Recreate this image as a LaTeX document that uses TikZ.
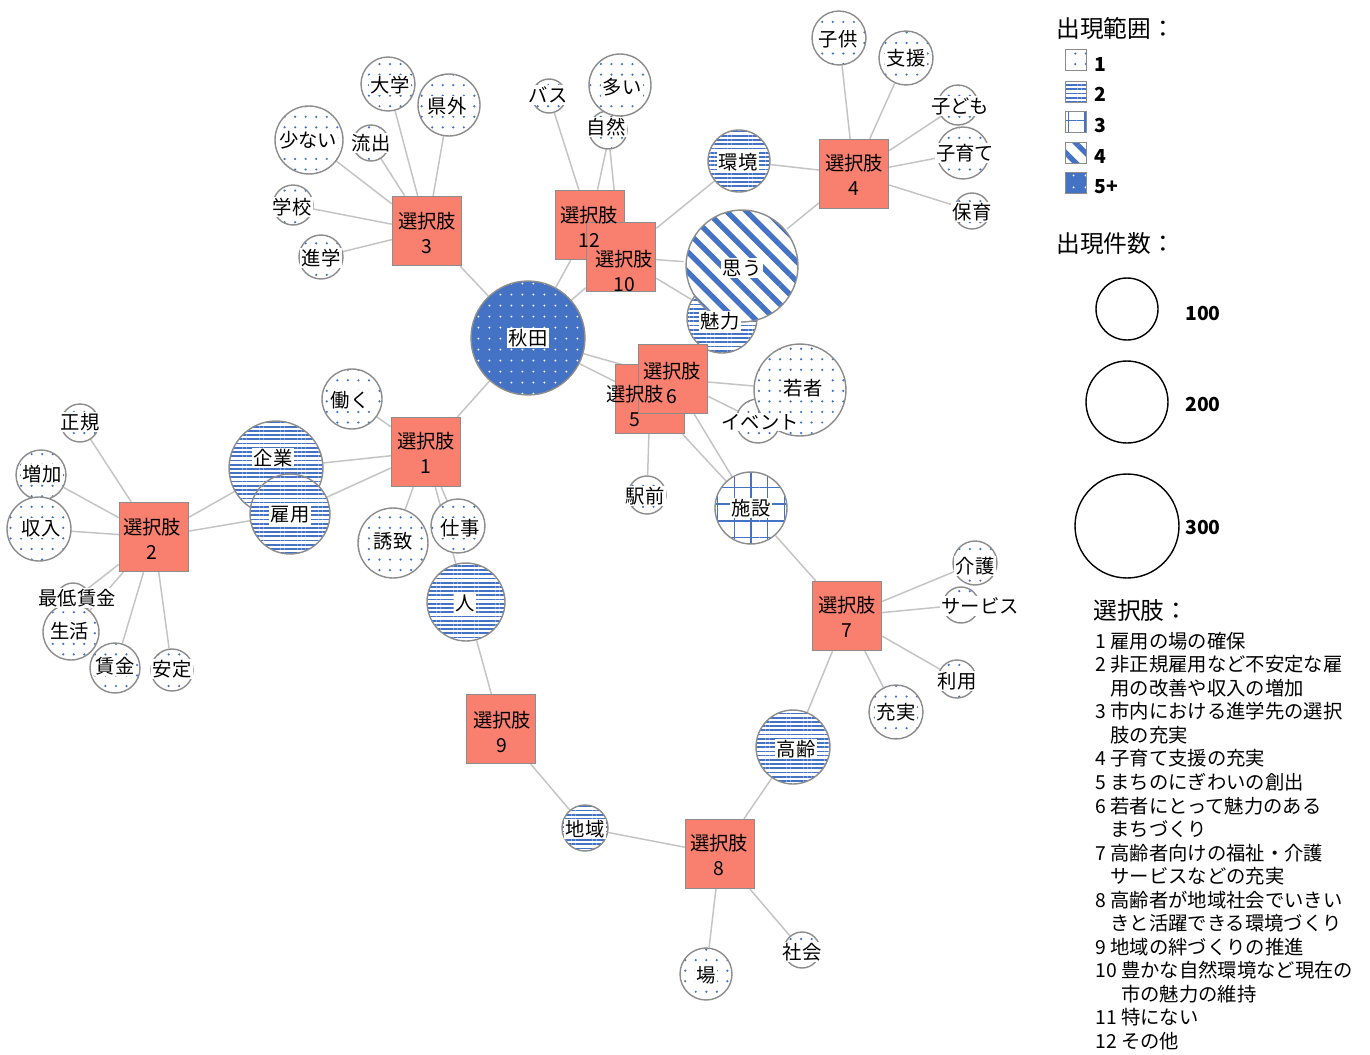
\documentclass[tikz,border=0pt]{standalone}
\usepackage{fontspec}
\setmainfont{Noto Sans CJK JP}
\usetikzlibrary{patterns.meta}
\definecolor{kblue}{HTML}{4472C4}
\definecolor{kbox}{HTML}{F9806F}
\definecolor{kring}{HTML}{8C8C8C}
\definecolor{kedge}{HTML}{C4C4C4}
\pgfdeclarelayer{bg}
\pgfsetlayers{bg,main}

\begin{document}
\begin{tikzpicture}[x=0.02cm,y=-0.02cm,font=\fontsize{11}{13}\selectfont,
  edge/.style={draw=kedge,line width=0.85pt},
  word/.style={circle,draw=kring,line width=0.8pt,inner sep=0pt,minimum size={#1*0.04cm}},
  box/.style={rectangle,draw=kring,line width=0.8pt,fill=kbox,inner sep=0pt,minimum size=1.38cm},
  keybox/.style={rectangle,draw=kring,line width=0.8pt,inner sep=0pt,minimum size=0.42cm},
  lv1/.style={preaction={fill=white},pattern={Dots[distance=6pt,radius=0.7pt]},pattern color=kblue},
  lv2/.style={preaction={fill=white},pattern={Lines[angle=0,distance=2.4pt,line width=1pt]},pattern color=kblue},
  lv3/.style={preaction={fill=white},pattern={Hatch[angle=0,distance=9.5pt,line width=0.8pt]},pattern color=kblue},
  lv4/.style={preaction={fill=white},pattern={Lines[angle=-45,distance=8pt,line width=3pt]},pattern color=kblue},
  lv5/.style={preaction={fill=kblue},pattern={Dots[distance=6.5pt,radius=0.6pt]},pattern color=white},
  wlabel/.style={fill=white,inner sep=0.8pt},
  blabel/.style={align=center,inner sep=0pt,font=\fontsize{11}{14.2}\selectfont},
  keynum/.style={anchor=west,inner sep=0pt,font=\fontsize{11}{13}\selectfont\bfseries},
  keyttl/.style={anchor=west,inner sep=0pt,font=\fontsize{13.5}{16}\selectfont}]
\useasboundingbox (0,0) rectangle (1370,1055);

% word circles
\node[word=57,lv5] (akita) at (528,338) {};
\node[word=35,lv2] (miryoku) at (722,318) {};
\node[word=56,lv4] (omou) at (742,266) {};
\node[word=31,lv2] (kankyo) at (739,161) {};
\node[word=22,lv1] (ibento) at (758,421) {};
\node[word=46,lv1] (wakamono) at (800,390) {};
\node[word=19,lv1] (ekimae) at (647,495) {};
\node[word=36,lv3] (shisetsu) at (751,508) {};
\node[word=22,lv1] (kaigo) at (975,563) {};
\node[word=18,lv1] (service) at (961,605) {};
\node[word=19,lv1] (riyo) at (957,679) {};
\node[word=27,lv1] (jujitsu) at (896,712) {};
\node[word=37,lv2] (korei) at (793,747) {};
\node[word=23,lv2] (chiiki) at (585,828) {};
\node[word=26,lv1] (ba) at (706,974) {};
\node[word=18,lv1] (shakai) at (802,950) {};
\node[word=39,lv2] (hito) at (466,602) {};
\node[word=27,lv1] (shigoto) at (458,526) {};
\node[word=35,lv1] (yuchi) at (393,543) {};
\node[word=30,lv1] (hataraku) at (352,399) {};
\node[word=47,lv2] (kigyo) at (276,468) {};
\node[word=40,lv2] (koyo) at (290,514) {};
\node[word=19,lv1] (seiki) at (80,423) {};
\node[word=25,lv1] (zoka) at (41,475) {};
\node[word=32,lv1] (shunyu) at (39,529) {};
\node[word=17,lv1] (saitei) at (73,600) {};
\node[word=28,lv1] (seikatsu) at (71,632) {};
\node[word=25,lv1] (chingin) at (115,668) {};
\node[word=21,lv1] (antei) at (172,670) {};
\node[word=34,lv1] (sukunai) at (309,140) {};
\node[word=27,lv1] (daigaku) at (388,84) {};
\node[word=31,lv1] (kengai) at (449,105) {};
\node[word=18,lv1] (ryushutsu) at (371,143) {};
\node[word=20,lv1] (gakko) at (293,205) {};
\node[word=22,lv1] (shingaku) at (321,257) {};
\node[word=17,lv1] (basu) at (549,96) {};
\node[word=19,lv1] (shizen) at (608,130) {};
\node[word=31,lv1] (oi) at (620,85) {};
\node[word=27,lv1] (kodomo) at (839,38) {};
\node[word=27,lv1] (shien) at (906,58) {};
\node[word=20,lv1] (kodomo2) at (958,105) {};
\node[word=26,lv1] (kosodate) at (963,153) {};
\node[word=18,lv1] (hoiku) at (972,211) {};

% option boxes
\node[box] (b1) at (426,452) {};
\node[box] (b2) at (154,537) {};
\node[box] (b3) at (427,231) {};
\node[box] (b4) at (854,174) {};
\node[box] (b5) at (650,399) {};
\node[box] (b6) at (673,379) {};
\node[box] (b7) at (847,616) {};
\node[box] (b8) at (720,854) {};
\node[box] (b9) at (501,729) {};
\node[box] (b12) at (590,225) {};
\node[box] (b10) at (621,257) {};

\begin{pgfonlayer}{bg}
\draw[edge] (b1) -- (akita) (b1) -- (hataraku) (b1) -- (kigyo) (b1) -- (koyo) (b1) -- (yuchi) (b1) -- (shigoto) (b1) -- (hito);
\draw[edge] (b2) -- (seiki) (b2) -- (zoka) (b2) -- (shunyu) (b2) -- (saitei) (b2) -- (seikatsu) (b2) -- (chingin) (b2) -- (antei) (b2) -- (kigyo) (b2) -- (koyo);
\draw[edge] (b3) -- (sukunai) (b3) -- (daigaku) (b3) -- (kengai) (b3) -- (ryushutsu) (b3) -- (gakko) (b3) -- (shingaku) (b3) -- (akita);
\draw[edge] (b4) -- (kodomo) (b4) -- (shien) (b4) -- (kodomo2) (b4) -- (kosodate) (b4) -- (hoiku) (b4) -- (kankyo) (b4) -- (omou);
\draw[edge] (b5) -- (akita) (b5) -- (ekimae) (b5) -- (shisetsu);
\draw[edge] (b6) -- (akita) (b6) -- (wakamono) (b6) -- (ibento) (b6) -- (shisetsu) (b6) -- (miryoku);
\draw[edge] (b7) -- (shisetsu) (b7) -- (kaigo) (b7) -- (service) (b7) -- (riyo) (b7) -- (jujitsu) (b7) -- (korei);
\draw[edge] (b8) -- (korei) (b8) -- (chiiki) (b8) -- (ba) (b8) -- (shakai);
\draw[edge] (b9) -- (hito) (b9) -- (chiiki);
\draw[edge] (b10) -- (shizen) (b10) -- (kankyo) (b10) -- (omou) (b10) -- (miryoku) (b10) -- (akita);
\draw[edge] (b12) -- (basu) (b12) -- (oi) (b12) -- (akita);
\end{pgfonlayer}

% labels on top
\node[wlabel] (t-akita) at (528,338) {秋田};
\node[wlabel] (t-omou) at (742,268) {思う};
\node[wlabel] (t-miryoku) at (720,321) {魅力};
\node[wlabel] (t-kankyo) at (738,162) {環境};
\node[wlabel] (t-wakamono) at (803,388) {若者};
\node[wlabel] (t-ibento) at (760,422) {イベント};
\node[wlabel] (t-ekimae) at (645,496) {駅前};
\node[wlabel] (t-shisetsu) at (751,508) {施設};
\node[wlabel] (t-kaigo) at (975,566) {介護};
\node[wlabel] (t-service) at (980,606) {サービス};
\node[wlabel] (t-riyo) at (957,681) {利用};
\node[wlabel] (t-jujitsu) at (896,712) {充実};
\node[wlabel] (t-korei) at (796,749) {高齢};
\node[wlabel] (t-chiiki) at (585,829) {地域};
\node[wlabel] (t-ba) at (706,975) {場};
\node[wlabel] (t-shakai) at (802,952) {社会};
\node[wlabel] (t-hito) at (465,603) {人};
\node[wlabel] (t-shigoto) at (460,528) {仕事};
\node[wlabel] (t-yuchi) at (393,541) {誘致};
\node[wlabel] (t-hataraku) at (350,400) {働く};
\node[wlabel] (t-kigyo) at (273,458) {企業};
\node[wlabel] (t-koyo) at (290,515) {雇用};
\node[wlabel] (t-seiki) at (80,422) {正規};
\node[wlabel] (t-zoka) at (42,474) {増加};
\node[wlabel] (t-shunyu) at (41,528) {収入};
\node[wlabel] (t-saitei) at (77,598) {最低賃金};
\node[wlabel] (t-seikatsu) at (70,631) {生活};
\node[wlabel] (t-chingin) at (115,666) {賃金};
\node[wlabel] (t-antei) at (172,669) {安定};
\node[wlabel] (t-sukunai) at (308,140) {少ない};
\node[wlabel] (t-daigaku) at (390,85) {大学};
\node[wlabel] (t-kengai) at (447,106) {県外};
\node[wlabel] (t-ryushutsu) at (371,143) {流出};
\node[wlabel] (t-gakko) at (292,207) {学校};
\node[wlabel] (t-shingaku) at (321,258) {進学};
\node[wlabel] (t-basu) at (548,95) {バス};
\node[wlabel] (t-oi) at (622,87) {多い};
\node[wlabel] (t-shizen) at (606,127) {自然};
\node[wlabel] (t-kodomo) at (838,39) {子供};
\node[wlabel] (t-shien) at (906,58) {支援};
\node[wlabel] (t-kodomo2) at (960,106) {子ども};
\node[wlabel] (t-kosodate) at (965,153) {子育て};
\node[wlabel] (t-hoiku) at (972,212) {保育};

\node[blabel] (t-b1) at (426,453) {選択肢\\1};
\node[blabel] (t-b2) at (152,539) {選択肢\\2};
\node[blabel] (t-b3) at (427,233) {選択肢\\3};
\node[blabel] (t-b4) at (854,175) {選択肢\\4};
\node[blabel] (t-b5) at (635,406) {選択肢\\5};
\node[blabel] (t-b6) at (672,383) {選択肢\\6};
\node[blabel] (t-b7) at (847,617) {選択肢\\7};
\node[blabel] (t-b8) at (719,855) {選択肢\\8};
\node[blabel] (t-b9) at (502,732) {選択肢\\9};
\node[blabel] (t-b12) at (589,227) {選択肢\\12};
\node[blabel] (t-b10) at (624,271) {選択肢\\10};

% legend
\node[keyttl] (ttl-range) at (1056,28) {出現範囲：};
\node[keybox,lv1] (k1) at (1076,60) {};
\node[keybox,lv2] (k2) at (1076,92) {};
\node[keybox,lv3] (k3) at (1076,122) {};
\node[keybox,lv4] (k4) at (1076,153) {};
\node[keybox,lv5] (k5) at (1076,183) {};
\node[keynum] (n1) at (1094,64) {1};
\node[keynum] (n2) at (1094,94) {2};
\node[keynum] (n3) at (1094,125) {3};
\node[keynum] (n4) at (1094,156) {4};
\node[keynum] (n5) at (1094,187) {5+};

\node[keyttl] (ttl-count) at (1056,244) {出現件数：};
\node[circle,draw=black,line width=0.8pt,minimum size=1.24cm,inner sep=0pt] (c100) at (1127,309) {};
\node[circle,draw=black,line width=0.8pt,minimum size=1.64cm,inner sep=0pt] (c200) at (1127,402) {};
\node[circle,draw=black,line width=0.8pt,minimum size=2.08cm,inner sep=0pt] (c300) at (1127,526) {};
\node[keynum] (n100) at (1185,313) {100};
\node[keynum] (n200) at (1185,404) {200};
\node[keynum] (n300) at (1185,527) {300};

\node[keyttl] (ttl-opt) at (1093,611) {選択肢：};
\node[anchor=west,align=left,inner sep=0pt,font=\fontsize{11}{13.4}\selectfont] (optlist) at (1095,841)
 {1 雇用の場の確保\\
  2 非正規雇用など不安定な雇\\
  \phantom{2}\ 用の改善や収入の増加\\
  3 市内における進学先の選択\\
  \phantom{3}\ 肢の充実\\
  4 子育て支援の充実\\
  5 まちのにぎわいの創出\\
  6 若者にとって魅力のある\\
  \phantom{6}\ まちづくり\\
  7 高齢者向けの福祉・介護\\
  \phantom{7}\ サービスなどの充実\\
  8 高齢者が地域社会でいきい\\
  \phantom{8}\ きと活躍できる環境づくり\\
  9 地域の絆づくりの推進\\
  10 豊かな自然環境など現在の\\
  \phantom{10}\ 市の魅力の維持\\
  11 特にない\\
  12 その他};
\end{tikzpicture}
\end{document}
